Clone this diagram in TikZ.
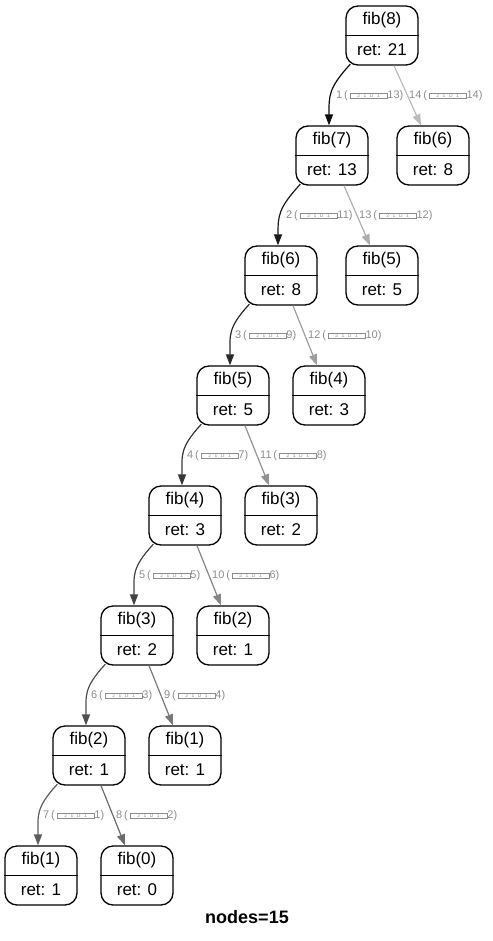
\documentclass[tikz,border=0pt]{standalone}
\usepackage{fontspec}
\setmainfont{Liberation Sans}
\usetikzlibrary{arrows.meta}
\newcommand\tofu{\raisebox{0.6pt}{\setlength\fboxsep{0.7pt}\setlength\fboxrule{0.7pt}\fbox{\makebox[35pt]{\fontsize{5}{5}\selectfont 2\hspace{3.5pt}1\hspace{3.5pt}D\hspace{3.5pt}1}}}}
\newcommand\fibnode[5]{%
  \node[fibbox] (#1) at (#2,#3) {};
  \draw[fibline] (#1.west) -- (#1.east);
  \node[fibtxt] (#1t) at ([yshift=15pt]#1.center) {#4};
  \node[fibtxt] (#1b) at ([yshift=-14.5pt]#1.center) {#5};
}
\newcommand\leftedge[5]{%
  \draw[fibedge, color=black!#3] ([xshift=5pt,yshift=1.5pt]#1.south west) .. controls +(-22,24) and +(0,-30) .. ([xshift=-3pt]#2.north);
  \node[elabel] (#1#2l) at ([xshift=-46pt,yshift=-60pt]#1.center) {#4\,(\,\tofu#5)};
}
\newcommand\rightedge[5]{%
  \draw[fibedge, color=black!#3] ([xshift=12pt]#1.south) -- ([xshift=-12pt]#2.north);
  \node[elabel] (#1#2l) at ([xshift=27pt,yshift=-60pt]#1.center) {#4\,(\,\tofu#5)};
}
\begin{document}
\begin{tikzpicture}[x=1pt,y=-1pt,
  fibbox/.style={draw, line width=1.3pt, rounded corners=12pt, minimum width=72pt, minimum height=59pt, inner sep=0pt},
  fibline/.style={line width=1.3pt},
  fibtxt/.style={inner sep=0pt, font=\fontsize{17}{19}\selectfont},
  fibedge/.style={line width=1.2pt, -{Triangle[length=11pt,width=8pt]}},
  elabel/.style={anchor=west, inner sep=0pt, text=black!45, font=\fontsize{11}{12}\selectfont}]
\useasboundingbox (0,0) rectangle (492,941);
\fibnode{L8}{382}{35.5}{fib(8)}{ret: 21}
\fibnode{L7}{332}{155.5}{fib(7)}{ret: 13}
\fibnode{L6}{281}{275.5}{fib(6)}{ret: 8}
\fibnode{L5}{233}{395.5}{fib(5)}{ret: 5}
\fibnode{L4}{185}{515.5}{fib(4)}{ret: 3}
\fibnode{L3}{137}{635.5}{fib(3)}{ret: 2}
\fibnode{L2}{89}{755.5}{fib(2)}{ret: 1}
\fibnode{L1}{41}{875.5}{fib(1)}{ret: 1}
\fibnode{R6}{433}{155.5}{fib(6)}{ret: 8}
\fibnode{R5}{382}{275.5}{fib(5)}{ret: 5}
\fibnode{R4}{329}{395.5}{fib(4)}{ret: 3}
\fibnode{R3}{281}{515.5}{fib(3)}{ret: 2}
\fibnode{R2}{233}{635.5}{fib(2)}{ret: 1}
\fibnode{R1}{185}{755.5}{fib(1)}{ret: 1}
\fibnode{R0}{137}{875.5}{fib(0)}{ret: 0}
\leftedge{L8}{L7}{95}{1}{13}
\rightedge{L8}{R6}{27}{14}{14}
\leftedge{L7}{L6}{90}{2}{11}
\rightedge{L7}{R5}{32}{13}{12}
\leftedge{L6}{L5}{84}{3}{9}
\rightedge{L6}{R4}{38}{12}{10}
\leftedge{L5}{L4}{79}{4}{7}
\rightedge{L5}{R3}{43}{11}{8}
\leftedge{L4}{L3}{74}{5}{5}
\rightedge{L4}{R2}{48}{10}{6}
\leftedge{L3}{L2}{69}{6}{3}
\rightedge{L3}{R1}{53}{9}{4}
\leftedge{L2}{L1}{64}{7}{1}
\rightedge{L2}{R0}{58}{8}{2}
\node[font=\bfseries\fontsize{18}{22}\selectfont, inner sep=0pt] (cap) at (247,917) {nodes=15};
\end{tikzpicture}
\end{document}
